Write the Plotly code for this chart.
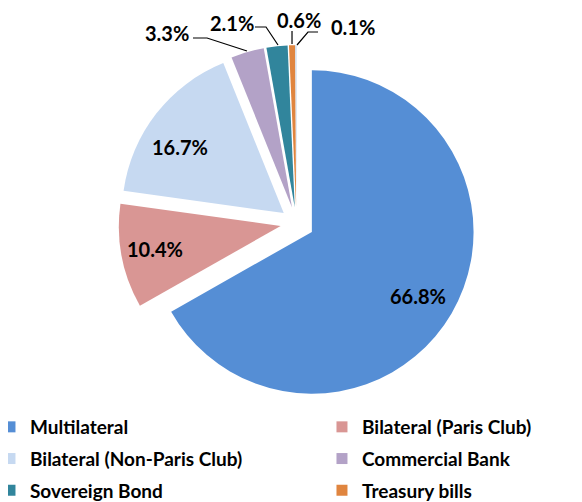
import plotly.graph_objects as go

labels = ['Multilateral', 'Bilateral (Paris Club)', 'Bilateral (Non-Paris Club)',
          'Commercial Bank', 'Sovereign Bond', 'Treasury bills', 'Other']
values = [66.8, 10.4, 16.7, 3.3, 2.1, 0.6, 0.1]
colors = ['#558ED5', '#D99694', '#C6D9F1', '#B3A2C7', '#31859C', '#E0853F', '#B9CDE5']

# legend layout: left column / right column
left_col = [0, 2, 4]
right_col = [1, 3, 5]

# data label centres (px from top-left of the figure)
label_xy = [(410, 288), (147, 241), (172, 139), (159, 25), (224, 15), (291, 12), (345, 19)]
# leader lines for the small slices (px)
leaders = {3: [(185, 30), (199, 30), (239, 43)],
           4: [(247, 19), (258, 19), (270, 37)],
           5: [(284, 23), (284, 36)],
           6: [(310, 24), (300, 24), (289, 37)]}

FONT = 'Lato'
W, H = 574, 494  # page adds an 8px body margin


def px(x, y):
    return x / W, 1 - y / H


fig = go.Figure()

fig.add_trace(go.Pie(
    labels=labels,
    values=values,
    sort=False,
    direction='clockwise',
    rotation=0,
    pull=[0.11, 0.1, 0.1, 0.1, 0.1, 0.1, 0.1],
    marker=dict(colors=colors, line=dict(width=0)),
    textinfo='none',
    showlegend=False,
    hoverinfo='label+percent',
    domain=dict(x=[0.1899, 0.8153], y=[0.2014, 0.9281]),
))

for i, (x, y) in enumerate(label_xy):
    ax_, ay_ = px(x, y)
    fig.add_annotation(
        x=ax_, y=ay_, xref='paper', yref='paper',
        xanchor='center', yanchor='middle', showarrow=False, borderpad=0,
        text=f'<b>{values[i]:.1f}%</b>',
        font=dict(family=FONT, size=20, color='black'),
    )

for i, pts in leaders.items():
    path = ' '.join(('M' if k == 0 else 'L') + ' %.4f %.4f' % px(*p) for k, p in enumerate(pts))
    fig.add_shape(type='path', path=path, xref='paper', yref='paper',
                  line=dict(color='black', width=1.2))

# dummy traces so the legend can be laid out in two columns
for col, legend_name in [(left_col, 'legend'), (right_col, 'legend2')]:
    for i in col:
        fig.add_trace(go.Scatter(
            x=[None], y=[None], mode='markers', name=labels[i],
            marker=dict(symbol='square', size=11, color=colors[i]),
            legend=legend_name, legendgroup=labels[i],
        ))

legend_style = dict(
    orientation='v', yanchor='top', y=0.1903, xanchor='left',
    font=dict(family=FONT, size=19, color='black', weight='bold'),
    tracegroupgap=4, itemwidth=30, bgcolor='rgba(0,0,0,0)',
)

fig.update_layout(
    width=W, height=H,
    margin=dict(l=0, r=0, t=0, b=0, autoexpand=False),
    paper_bgcolor='white', plot_bgcolor='white',
    xaxis=dict(visible=False), yaxis=dict(visible=False),
    legend=dict(x=-0.0314, **legend_style),
    legend2=dict(x=0.547, **legend_style),
)

fig.write_html("out.html")
